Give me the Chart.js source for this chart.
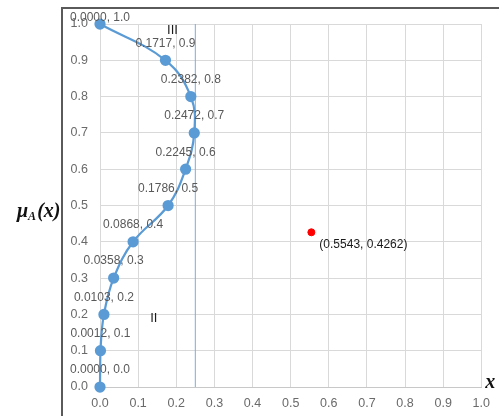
<!DOCTYPE html>
<html>
<head>
<meta charset="utf-8">
<script src="https://cdn.jsdelivr.net/npm/chart.js@4.4.1/dist/chart.umd.min.js"></script>
<style>
  html, body { margin: 0; padding: 0; background: #fff; }
  #wrap { position: relative; width: 499px; height: 416px; }
  #frame { position: absolute; left: 61px; top: 7px; right: -4px; bottom: -4px;
           border-left: 2px solid #5a5a5a; border-top: 2px solid #5a5a5a; pointer-events: none; }
</style>
</head>
<body>
<div id="wrap">
  <canvas id="myChart" width="499" height="416"></canvas>
  <div id="frame"></div>
</div>
<script>
// membership curve points (x, mu)
const curveX = [0.0000, 0.0012, 0.0103, 0.0358, 0.0868, 0.1786, 0.2245, 0.2472, 0.2382, 0.1717, 0.0000];
const curveY = [0.0, 0.1, 0.2, 0.3, 0.4, 0.5, 0.6, 0.7, 0.8, 0.9, 1.0];

// the single red point
const redX = [0.5543];
const redY = [0.4262];

// vertical boundary line
const boundaryX = [0.25, 0.25];
const boundaryY = [0.0, 1.0];

// region labels
const regionNames = ['III', 'II'];
const regionX = [0.19, 0.141];
const regionY = [0.983, 0.19];

const tickValues = [0.0, 0.1, 0.2, 0.3, 0.4, 0.5, 0.6, 0.7, 0.8, 0.9, 1.0];

const toPoints = (xs, ys) => xs.map((x, i) => ({ x: x, y: ys[i] }));

// draws the "x, y" labels, region names and axis titles
const labelPlugin = {
  id: 'labels',
  afterDatasetsDraw(chart) {
    const ctx = chart.ctx;
    const xs = chart.scales.x, ys = chart.scales.y;
    ctx.save();

    // data labels over the curve
    ctx.font = '12px "Liberation Sans", Arial, sans-serif';
    ctx.fillStyle = '#595959';
    ctx.textAlign = 'center';
    ctx.textBaseline = 'middle';
    chart.getDatasetMeta(0).data.forEach((el, i) => {
      const txt = curveX[i].toFixed(4) + ', ' + curveY[i].toFixed(1);
      ctx.fillText(txt, el.x, Math.max(el.y - 17, 18));
    });

    // red point label
    const rp = chart.getDatasetMeta(1).data[0];
    ctx.fillStyle = '#1a1a1a';
    ctx.textAlign = 'left';
    ctx.fillText('(' + redX[0].toFixed(4) + ', ' + redY[0].toFixed(4) + ')', rp.x + 8, rp.y + 12);

    // region labels
    ctx.font = '13px "Liberation Sans", Arial, sans-serif';
    ctx.textAlign = 'center';
    regionNames.forEach((n, i) => {
      ctx.fillText(n, xs.getPixelForValue(regionX[i]), ys.getPixelForValue(regionY[i]));
    });

    // y axis title: mu_A(x)
    ctx.fillStyle = '#111';
    ctx.textAlign = 'left';
    ctx.textBaseline = 'alphabetic';
    let px = 17;
    const base = 217;
    ctx.font = 'bold italic 20px "Liberation Serif", serif';
    ctx.fillText('μ', px, base);
    px += ctx.measureText('μ').width;
    ctx.font = 'bold italic 12px "Liberation Serif", serif';
    ctx.fillText('A', px, base + 3);
    px += ctx.measureText('A').width + 1;
    ctx.font = 'bold italic 20px "Liberation Serif", serif';
    ctx.fillText('(x)', px, base);

    // x axis title
    ctx.fillText('x', chart.chartArea.right + 4, ys.getPixelForValue(0) + 1);
    ctx.restore();
  }
};

new Chart(document.getElementById('myChart').getContext('2d'), {
  type: 'scatter',
  data: {
    datasets: [
      {
        data: toPoints(curveX, curveY),
        showLine: true,
        borderColor: '#5B9BD5',
        backgroundColor: '#5B9BD5',
        borderWidth: 2.25,
        pointRadius: 4.5,
        tension: 0.4,
        clip: false,
        order: 1
      },
      {
        data: toPoints(redX, redY),
        backgroundColor: '#ff0000',
        borderColor: '#ff0000',
        pointRadius: 3.5,
        clip: false,
        order: 0
      },
      {
        data: toPoints(boundaryX, boundaryY),
        showLine: true,
        borderColor: '#7aaed8',
        borderWidth: 1,
        pointRadius: 0,
        clip: false,
        order: 2
      }
    ]
  },
  options: {
    responsive: false,
    animation: false,
    layout: { padding: { left: 0, right: 16, top: 24, bottom: 0 } },
    plugins: { legend: { display: false }, tooltip: { enabled: false } },
    scales: {
      x: {
        type: 'linear',
        position: 'bottom',
        min: 0, max: 1,
        afterBuildTicks: s => { s.ticks = tickValues.map(v => ({ value: v })); },
        afterFit: s => { s.height = 29; },
        grid: { color: '#d9d9d9', drawTicks: false },
        border: { color: '#c8c8c8' },
        ticks: {
          padding: 9,
          color: '#6a6a6a',
          font: { family: '"Liberation Sans", Arial, sans-serif', size: 12.5 },
          callback: v => v.toFixed(1)
        }
      },
      y: {
        min: 0, max: 1,
        afterBuildTicks: s => { s.ticks = tickValues.map(v => ({ value: v })); },
        afterFit: s => { s.width = 100; },
        grid: { color: '#d9d9d9', drawTicks: false },
        border: { color: '#d9d9d9' },
        ticks: {
          padding: 12,
          color: '#6a6a6a',
          font: { family: '"Liberation Sans", Arial, sans-serif', size: 12.5 },
          callback: v => v.toFixed(1)
        }
      }
    }
  },
  plugins: [labelPlugin]
});
</script>
</body>
</html>
